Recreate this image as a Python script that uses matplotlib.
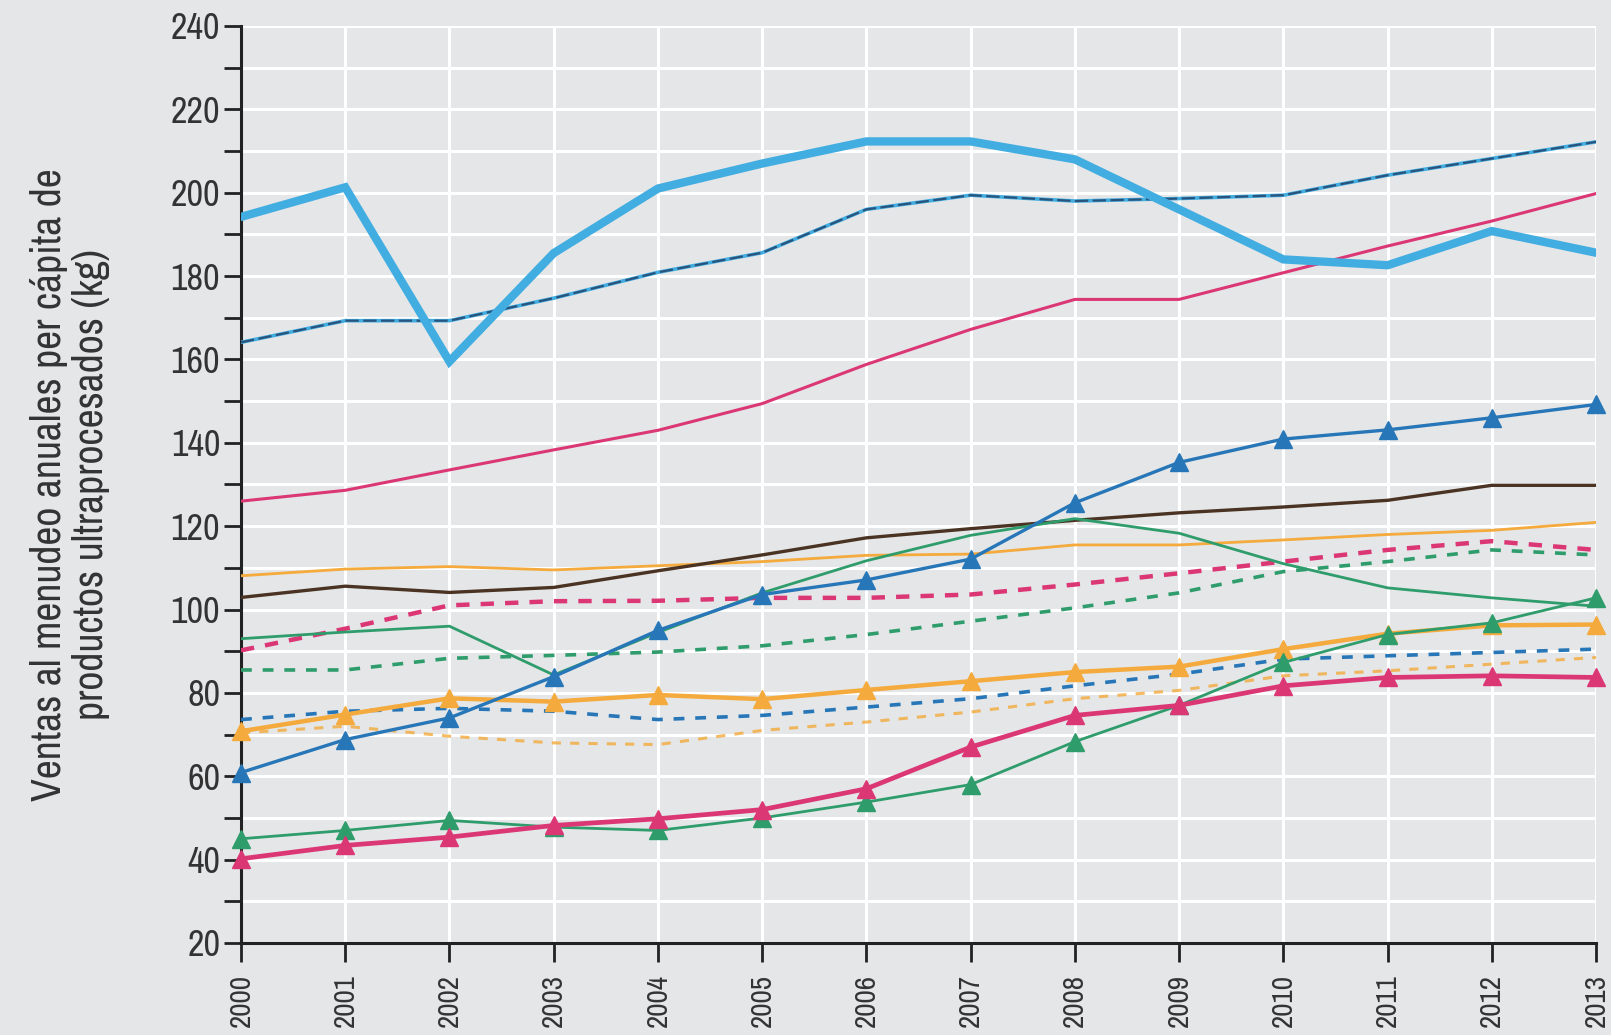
import matplotlib
matplotlib.use("Agg")
import matplotlib.pyplot as plt
from matplotlib.ticker import MultipleLocator
from matplotlib import font_manager

years = list(range(2000, 2014))
year_labels = [str(y) for y in years]

thick_blue = [194.2, 201.3, 159.5, 185.5, 201.0, 207.0, 212.3, 212.3, 208.0, 196.0, 184.0, 182.6, 190.8, 185.6]
navy_thin = [164.1, 169.3, 169.3, 174.7, 180.9, 185.6, 196.0, 199.4, 198.0, 198.6, 199.4, 204.2, 208.2, 212.2]
pink_solid = [126.0, 128.6, 133.5, 138.3, 143.0, 149.4, 158.8, 167.2, 174.4, 174.4, 180.8, 187.2, 193.2, 199.8]
blue_tri = [60.9, 68.8, 74.0, 83.9, 95.0, 103.6, 107.1, 112.1, 125.6, 135.3, 140.9, 143.1, 146.0, 149.2]
brown = [102.9, 105.6, 104.1, 105.3, 109.3, 113.1, 117.2, 119.4, 121.4, 123.2, 124.6, 126.2, 129.8, 129.8]
orange_thin = [108.1, 109.7, 110.3, 109.5, 110.5, 111.5, 113.0, 113.3, 115.5, 115.5, 116.7, 118.0, 119.0, 120.9]
green_thin = [93.0, 94.6, 96.0, 84.3, 94.5, 104.0, 111.7, 117.8, 121.8, 118.3, 111.0, 105.2, 102.8, 100.8]
pink_dash = [90.2, 95.4, 101.0, 102.0, 102.1, 102.8, 102.8, 103.6, 106.0, 108.7, 111.5, 114.3, 116.4, 114.3]
green_dash = [85.5, 85.5, 88.3, 89.0, 89.8, 91.3, 94.0, 97.2, 100.4, 104.0, 109.1, 111.5, 114.3, 113.1]
orange_tri = [70.8, 74.8, 78.7, 77.9, 79.5, 78.5, 80.7, 82.8, 85.0, 86.3, 90.5, 94.2, 96.2, 96.4]
blue_dash = [73.6, 75.6, 76.3, 75.6, 73.6, 74.6, 76.6, 78.6, 81.7, 84.5, 88.1, 88.9, 89.7, 90.5]
orange_dash = [70.4, 72.0, 69.6, 68.0, 67.6, 71.0, 73.0, 75.4, 78.6, 80.6, 84.1, 85.3, 86.9, 88.5]
green_tri = [45.0, 47.0, 49.4, 47.8, 47.0, 50.0, 53.8, 58.0, 68.3, 77.0, 87.3, 94.0, 96.8, 102.8]
pink_tri = [40.2, 43.4, 45.4, 48.2, 49.8, 52.0, 57.0, 67.0, 74.6, 77.0, 81.7, 83.7, 84.1, 83.7]

ylabel = "Ventas al menudeo anuales per cápita de\nproductos ultraprocesados (kg)"

BG = "#e4e6e8"
PINK = "#dc3775"
GREEN = "#2f9c6c"
BLUE = "#2776b8"
LBLUE = "#42ade0"
ORANGE = "#f4aa3c"
NAVY = "#27537d"
BROWN = "#4a3322"

# look for a condensed / narrow face, otherwise Liberation Sans
font_kw = {}
narrow = None
for f in font_manager.fontManager.ttflist:
    if ('Narrow' in f.name or 'Condensed' in f.name) and f.weight in (400, 'normal', 'regular'):
        narrow = f.name
        break
if narrow is None:
    for f in font_manager.fontManager.ttflist:
        if f.stretch in ('condensed', 'semi-condensed') and f.style == 'normal':
            narrow = f.name
            font_kw = {'stretch': f.stretch}
            break
if narrow is None:
    narrow = 'Liberation Sans'
plt.rcParams['font.family'] = [narrow, 'DejaVu Sans']
if font_kw:
    plt.rcParams['font.stretch'] = font_kw['stretch']

fig = plt.figure(figsize=(16.11, 10.35), dpi=100, facecolor=BG)
ax = fig.add_axes([0.1496, 0.0889, 0.8411, 0.886])
ax.set_facecolor(BG)

# dashed series
ax.plot(years, orange_dash, color=ORANGE, lw=2.2, ls=(0, (3, 3)), alpha=0.8, zorder=3)
ax.plot(years, blue_dash, color=BLUE, lw=2.6, ls=(0, (3, 3)), zorder=3)
ax.plot(years, green_dash, color=GREEN, lw=2.6, ls=(0, (3, 3)), zorder=3)
ax.plot(years, pink_dash, color=PINK, lw=3.2, ls=(0, (3, 2.5)), zorder=3)

# thin solid series
ax.plot(years, orange_thin, color=ORANGE, lw=2.0, zorder=4)
ax.plot(years, brown, color=BROWN, lw=2.4, zorder=4)
ax.plot(years, green_thin, color=GREEN, lw=2.0, zorder=4)
ax.plot(years, pink_solid, color=PINK, lw=2.2, zorder=4)
ax.plot(years, navy_thin, color=LBLUE, lw=2.6, zorder=4)
ax.plot(years, navy_thin, color=NAVY, lw=1.6, ls=(0, (6, 2)), zorder=4)

# triangle series
ax.plot(years, orange_tri, color=ORANGE, lw=3.2, marker='^', ms=13, zorder=5, clip_on=False)
ax.plot(years, green_tri, color=GREEN, lw=2.0, marker='^', ms=13, zorder=5, clip_on=False)
ax.plot(years, pink_tri, color=PINK, lw=3.4, marker='^', ms=13, zorder=5, clip_on=False)
ax.plot(years, blue_tri, color=BLUE, lw=2.4, marker='^', ms=13, zorder=5, clip_on=False)

# thick light blue
ax.plot(years, thick_blue, color=LBLUE, lw=6, zorder=6, solid_joinstyle='miter')

ax.set_xlim(2000, 2013)
ax.set_ylim(20, 240)
ax.yaxis.set_major_locator(MultipleLocator(20))
ax.yaxis.set_minor_locator(MultipleLocator(10))
ax.set_xticks(years)
ax.set_xticklabels(year_labels, rotation=90)

ax.grid(True, which='both', axis='y', color='white', lw=2.2, zorder=0)
ax.grid(True, which='major', axis='x', color='white', lw=2.2, zorder=0)
ax.set_axisbelow(True)

for s in ['top', 'right']:
    ax.spines[s].set_visible(False)
for s in ['left', 'bottom']:
    ax.spines[s].set_color('#222222')
    ax.spines[s].set_linewidth(2.2)

ax.tick_params(axis='y', which='both', direction='out', length=12, width=2, color='#222222',
               labelsize=26, labelcolor='#333333', pad=3)
ax.tick_params(axis='x', which='major', direction='out', length=14, width=2, color='#222222',
               labelsize=21, labelcolor='#333333', pad=8)

ax.set_ylabel(ylabel, fontsize=30, color='#333333', labelpad=44, linespacing=1.1)

fig.savefig("out.png", dpi=100, facecolor=BG)
